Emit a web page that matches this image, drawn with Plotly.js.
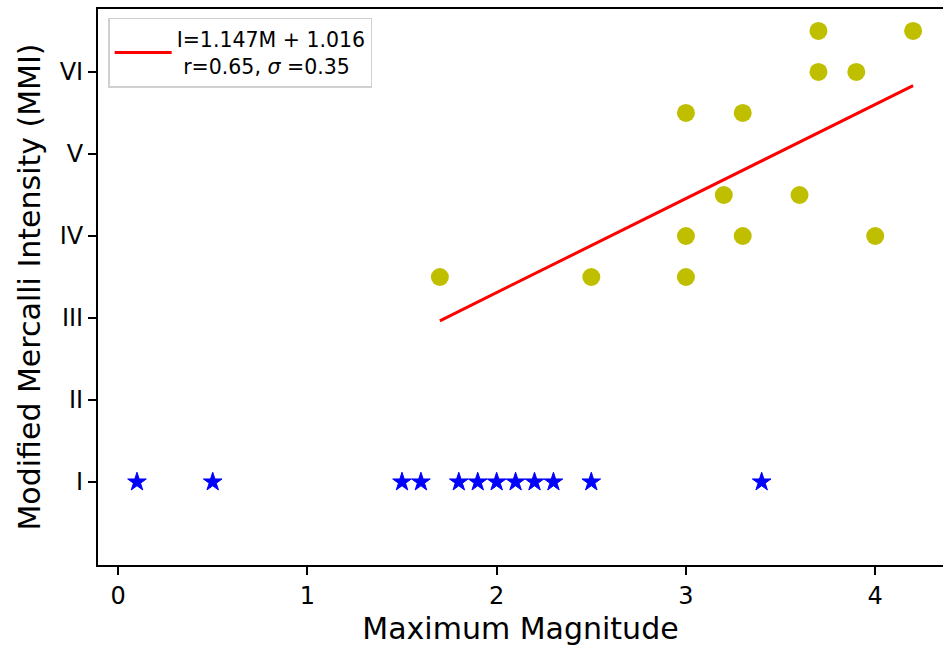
<!DOCTYPE html>
<html>
<head>
<meta charset="utf-8">
<script src="https://cdn.plot.ly/plotly-3.0.1.min.js"></script>
<style>html,body{margin:0;padding:0;background:#fff;}#chart{width:943px;height:650px;}</style>
</head>
<body>
<div id="chart"></div>
<script>
// Felt events (yellow circles)
const feltMag = [1.7, 2.5, 3.0, 3.0, 3.0, 3.2, 3.3, 3.3, 3.6, 3.7, 3.7, 3.9, 4.0, 4.2];
const feltMMI = [3.5, 3.5, 3.5, 4.0, 5.5, 4.5, 4.0, 5.5, 4.5, 6.0, 6.5, 6.0, 4.0, 6.5];
// Not-felt events (blue stars, MMI I)
const notFeltMag = [0.1, 0.5, 1.5, 1.6, 1.8, 1.9, 2.0, 2.1, 2.2, 2.3, 2.5, 3.4];
const notFeltMMI = [1, 1, 1, 1, 1, 1, 1, 1, 1, 1, 1, 1];
// Regression line I = 1.147M + 1.016
const slope = 1.147, intercept = 1.016;
const fitMag = [1.7, 4.2];
const fitMMI = fitMag.map(m => slope * m + intercept);
const mmiTickVals = [1, 2, 3, 4, 5, 6];
const mmiTickText = ['I', 'II', 'III', 'IV', 'V', 'VI'];
const magTickVals = [0, 1, 2, 3, 4];

const font = 'DejaVu Sans, sans-serif';
const traces = [
  {x: feltMag, y: feltMMI, mode: 'markers', type: 'scatter', showlegend: false,
   marker: {color: '#bfbf00', size: 18, line: {width: 0}}},
  {x: notFeltMag, y: notFeltMMI, mode: 'markers', type: 'scatter', showlegend: false,
   marker: {color: '#0000ff', symbol: 'star', size: 14, line: {width: 1, color: '#0000ff'}}},
  {x: fitMag, y: fitMMI, mode: 'lines', type: 'scatter', showlegend: true,
   name: 'I=1.147M + 1.016<br>\u00a0r=0.65, <i>\u03c3</i> =0.35',
   line: {color: '#ff0000', width: 3}}
];
const layout = {
  width: 943, height: 650,
  margin: {l: 98, r: 0, t: 9, b: 85},
  paper_bgcolor: '#fff', plot_bgcolor: '#fff',
  font: {family: font, color: '#000'},
  showlegend: true,
  legend: {x: 0.012, y: 0.984, xanchor: 'left', yanchor: 'top', itemwidth: 57,
           bordercolor: '#d0d0d0', borderwidth: 1.5, bgcolor: '#fff',
           font: {size: 20.5, family: font}},
  xaxis: {range: [-0.106, 4.358], tickvals: magTickVals, showgrid: false, zeroline: false,
          showline: true, linecolor: '#000', linewidth: 2, mirror: true,
          ticks: 'outside', ticklen: 8, tickwidth: 2, tickcolor: '#000',
          tickfont: {size: 24, family: font},
          title: {text: 'Maximum Magnitude', font: {size: 30, family: font}, standoff: 9}},
  yaxis: {range: [-0.012, 6.768], tickvals: mmiTickVals, ticktext: mmiTickText, showgrid: false, zeroline: false,
          showline: true, linecolor: '#000', linewidth: 2, mirror: false,
          ticks: 'outside', ticklen: 8, tickwidth: 2, tickcolor: '#000',
          tickfont: {size: 24, family: font},
          title: {text: 'Modified Mercalli Intensity (MMI)', font: {size: 30, family: font}, standoff: 10}}
};
Plotly.newPlot('chart', traces, layout, {displayModeBar: false, staticPlot: true});
</script>
</body>
</html>
